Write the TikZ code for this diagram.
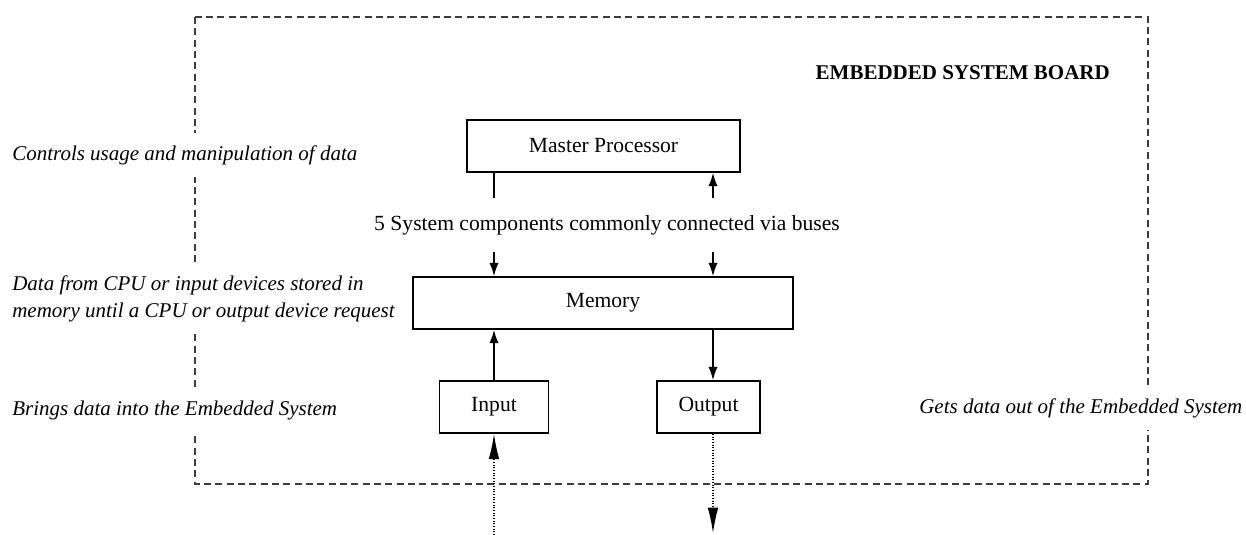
\documentclass[tikz,border=0pt]{standalone}
\usepackage{fontspec}
\setmainfont{Liberation Serif}
\usetikzlibrary{arrows.meta}

\begin{document}
\begin{tikzpicture}[x=0.75pt,y=0.75pt,yscale=-1,xscale=1,
		unit/.style={draw,line width=1.3pt,minimum height=39pt,inner sep=0pt,font=\fontsize{16.2}{19}\selectfont},
		note/.style={anchor=west,fill=white,inner xsep=3pt,inner ysep=9pt,align=left,font=\fontsize{15.75}{20.5}\selectfont\itshape},
		bus/.style={line width=1.1pt,-{Latex[length=10pt,width=7pt]}},
		ext/.style={line width=1pt,dash pattern=on 0.8pt off 1.2pt,-{Latex[length=19pt,width=8pt]}}]
	\useasboundingbox (0,0) rectangle (1246,535);
	
	%Board outline
	\draw [line width=1.5pt,dash pattern=on 5.2pt off 3.3pt,color={rgb, 255:red, 60; green, 60; blue, 60 }] (195,17) rectangle (1148,484);
	
	% Boxes
	\node [unit,minimum width=204.75pt] (cpu) at (603.5,146) {Master Processor};
	\node [unit,minimum width=285pt] (mem) at (603,303) {Memory};
	\node [unit,minimum width=81.75pt] (in) at (494,407) {Input};
	\node [unit,minimum width=77.25pt] (out) at (708.5,407) {Output};
	
	% Text Node
	\node [font=\fontsize{16.2}{19}\selectfont] (buses) at (607,225) {5 System components commonly connected via buses};
	% Text Node
	\node [anchor=west,font=\fontsize{15.75}{19}\selectfont\bfseries] (board) at (811,73) {EMBEDDED SYSTEM BOARD};
	% Text Node
	\node [note] (ctl) at (8,155) {Controls usage and manipulation of data};
	% Text Node
	\node [note] (sto) at (8,299) {Data from CPU or input devices stored in\\memory until a CPU or output device request};
	% Text Node
	\node [note] (bri) at (8,410) {Brings data into the Embedded System};
	% Text Node
	\node [note] (get) at (915,408) {Gets data out of the Embedded System};
	
	% Bus ends
	\coordinate (busLa) at (494,198);
	\coordinate (busLb) at (494,252);
	\coordinate (busRa) at (713,198);
	\coordinate (busRb) at (713,252);
	\coordinate (src) at (494,535);
	\coordinate (snk) at (713,533);
	
	%Straight Lines
	\draw [line width=1.1pt] (cpu.south -| busLa) -- (busLa);
	\draw [bus] (busRa) -- (cpu.south -| busRa);
	\draw [bus] (busLb) -- (mem.north -| busLb);
	\draw [bus] (busRb) -- (mem.north -| busRb);
	\draw [bus] (in.north) -- (mem.south -| in.north);
	\draw [bus] (mem.south -| busRb) -- (busRb |- out.north);
	
	%Dotted Lines
	\draw [ext] (src) -- (in.south);
	\draw [ext] (snk |- out.south) -- (snk);
\end{tikzpicture}
\end{document}
